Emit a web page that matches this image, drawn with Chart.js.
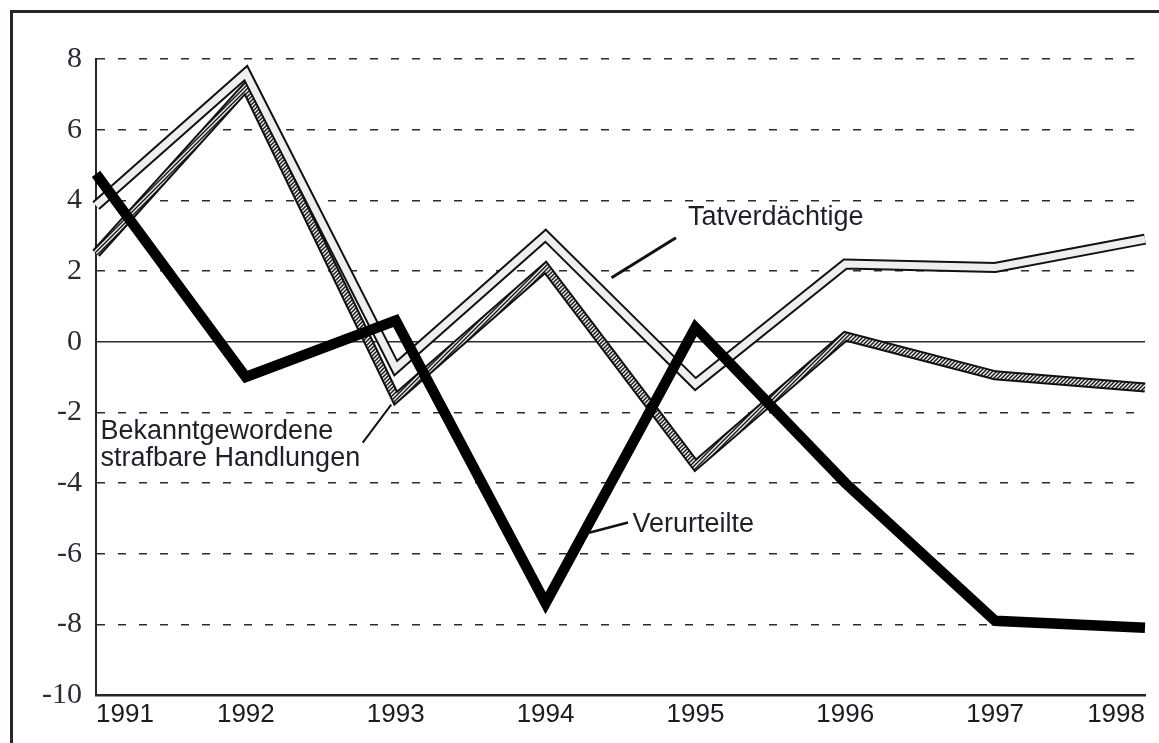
<!DOCTYPE html>
<html>
<head>
<meta charset="utf-8">
<script src="https://cdn.jsdelivr.net/npm/chart.js@4"></script>
<style>
    html, body { margin: 0; padding: 0; background: #fff; overflow: hidden; }
    #frame {
        position: absolute; left: 10px; top: 10px;
        width: 1200px; height: 800px;
        border: 3px solid #2b2430;
    }
    #chart { position: absolute; left: 0; top: 0; }
</style>
</head>
<body>
<div id="frame"></div>
<canvas id="chart" width="1159" height="743"></canvas>
<script>
// Veränderung gegenüber dem Vorjahr in %
const years = ['1991', '1992', '1993', '1994', '1995', '1996', '1997', '1998'];
const tatverdaechtige = [3.85, 7.6, -0.75, 3.0, -1.2, 2.2, 2.1, 2.9];
const bekanntgewordene = [2.5, 7.2, -1.6, 2.1, -3.5, 0.15, -0.95, -1.3];
const verurteilte = [4.75, -1.0, 0.6, -7.4, 0.4, -4.0, -7.9, -8.1];

const yMin = -10;
const yMax = 8;
const yStep = 2;

// Beschriftungen im Diagramm: Textanker und Hinweislinie (Jahr, Wert)
const labelTexts = [['Tatverdächtige'], ['Bekanntgewordene', 'strafbare Handlungen'], ['Verurteilte']];
const labelAnchors = [[1994.95, 3.5], [1991.03, -2.55], [1994.58, -5.18]];
const pointerStarts = [[1994.44, 1.81], [1992.78, -2.86], [1994.29, -5.41]];
const pointerEnds = [[1994.87, 2.94], [1992.97, -1.78], [1994.55, -5.12]];
const pointerWidths = [3, 2, 2.5];

function hatchPattern() {
    const c = document.createElement('canvas');
    c.width = 4;
    c.height = 4;
    const g = c.getContext('2d');
    g.fillStyle = '#f2f2f2';
    g.fillRect(0, 0, 4, 4);
    g.strokeStyle = '#1a1a1a';
    g.lineWidth = 1.5;
    g.beginPath();
    g.moveTo(0, 4); g.lineTo(4, 0);
    g.moveTo(-1, 1); g.lineTo(1, -1);
    g.moveTo(3, 5); g.lineTo(5, 3);
    g.stroke();
    const ctx = document.getElementById('chart').getContext('2d');
    return ctx.createPattern(c, 'repeat');
}

const annotationPlugin = {
    id: 'annotations',
    afterDatasetsDraw(chart) {
        const { ctx, scales: { x, y } } = chart;
        const px = yr => x.getPixelForValue(yr - Number(years[0]));
        ctx.save();
        ctx.strokeStyle = '#111';
        ctx.lineCap = 'butt';
        pointerStarts.forEach((s, i) => {
            const e = pointerEnds[i];
            ctx.lineWidth = pointerWidths[i];
            ctx.beginPath();
            ctx.moveTo(px(s[0]), y.getPixelForValue(s[1]));
            ctx.lineTo(px(e[0]), y.getPixelForValue(e[1]));
            ctx.stroke();
        });
        ctx.fillStyle = '#221d28';
        ctx.font = '27px "Liberation Sans", Arial, sans-serif';
        ctx.textAlign = 'left';
        ctx.textBaseline = 'middle';
        labelTexts.forEach((lines, i) => {
            const lx = px(labelAnchors[i][0]);
            const ly = y.getPixelForValue(labelAnchors[i][1]);
            lines.forEach((line, j) => ctx.fillText(line, lx, ly + j * 27));
        });
        ctx.restore();
    }
};

function bandLine(label, data, color, width, order) {
    return {
        label: label,
        data: data,
        borderColor: color,
        borderWidth: width,
        borderJoinStyle: 'miter',
        borderCapStyle: 'butt',
        pointRadius: 0,
        tension: 0,
        fill: false,
        order: order
    };
}

const hatch = hatchPattern();

new Chart(document.getElementById('chart'), {
    type: 'line',
    data: {
        labels: years,
        datasets: [
            bandLine('Verurteilte', verurteilte, '#000', 10.5, 0),
            bandLine('Tatverdächtige', tatverdaechtige, '#eeeeee', 7, 1),
            bandLine('Tatverdächtige', tatverdaechtige, '#111', 11, 2),
            bandLine('Bekanntgewordene strafbare Handlungen', bekanntgewordene, hatch, 6, 3),
            bandLine('Bekanntgewordene strafbare Handlungen', bekanntgewordene, '#111', 10, 4)
        ]
    },
    options: {
        responsive: false,
        animation: false,
        events: [],
        layout: { padding: { top: 59, right: 14, left: 0, bottom: 0 } },
        plugins: {
            legend: { display: false },
            tooltip: { enabled: false }
        },
        scales: {
            x: {
                type: 'category',
                offset: false,
                grid: { display: false, drawTicks: false },
                border: { display: true, color: '#2b2430', width: 2.5 },
                ticks: {
                    align: 'inner',
                    autoSkip: false,
                    maxRotation: 0,
                    padding: 4,
                    color: '#1e1a22',
                    font: { family: '"Liberation Sans", Arial, sans-serif', size: 26 }
                },
                afterFit(scale) { scale.height = 48; }
            },
            y: {
                min: yMin,
                max: yMax,
                grid: {
                    drawTicks: false,
                    color: ctx => (ctx.tick && ctx.tick.value === yMin) ? 'rgba(0,0,0,0)' : '#2f2a33',
                    lineWidth: ctx => (ctx.tick && ctx.tick.value === 0) ? 1.6 : 1.5
                },
                border: {
                    display: true,
                    color: '#2b2430',
                    width: 2,
                    dash: ctx => (ctx.tick && ctx.tick.value !== 0) ? [8, 13] : []
                },
                ticks: {
                    stepSize: yStep,
                    padding: 14,
                    color: '#2e2934',
                    font: { family: '"Liberation Serif", "Times New Roman", serif', size: 30 }
                },
                afterFit(scale) { scale.width = 96; }
            }
        }
    },
    plugins: [annotationPlugin]
});
</script>
</body>
</html>
